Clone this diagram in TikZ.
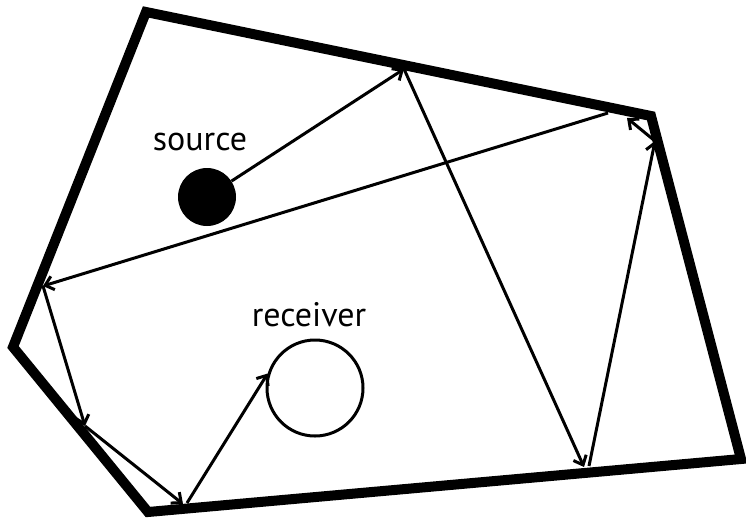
\documentclass[tikz,border=0pt]{standalone}
\usepackage{fontspec}
\setmainfont{PT Sans}
\usetikzlibrary{arrows.meta}
\begin{document}
\begin{tikzpicture}[x=1pt,y=-1pt,
  wall/.style={line width=10pt,line join=miter},
  ray/.style={line width=3pt,-{Straight Barb[length=8pt,width=14pt]}},
  lbl/.style={font=\fontsize{34}{36}\selectfont,anchor=base,inner sep=0pt}]
\useasboundingbox (0,0) rectangle (746,523);
% walls
\coordinate (A) at (146,12);
\coordinate (B) at (651,116);
\coordinate (C) at (741,459);
\coordinate (D) at (148,512);
\coordinate (E) at (13,347);
\draw[wall] (A) -- (B) -- (C) -- (D) -- (E) -- cycle;
% source and receiver
\node[circle,fill=black,minimum size=58pt,inner sep=0pt] (src) at (207,197) {};
\node[circle,draw=black,line width=3pt,minimum size=96pt,inner sep=0pt] (rec) at (315,388) {};
\node[lbl] (srclbl) at (200,150) {source};
\node[lbl] (reclbl) at (309,326) {receiver};
% reflection points
\coordinate (P1) at (404,69);
\coordinate (P2a) at (584,467);
\coordinate (P2b) at (589,466);
\coordinate (Q) at (655,141);
\coordinate (R) at (627,118);
\coordinate (R2) at (608,113);
\coordinate (S) at (43,286);
\coordinate (T) at (85,426);
\coordinate (U) at (183,504);
\coordinate (U2) at (187,503);
% rays
\draw[ray] (src) -- (P1);
\draw[ray] (P1) -- (P2a);
\draw[ray] (P2b) -- (Q);
\draw[ray] (Q) -- (R);
\draw[ray] (R2) -- (S);
\draw[ray] (S) -- (T);
\draw[ray] (T) -- (U);
\draw[ray] (U2) -- (rec.163);
\end{tikzpicture}
\end{document}
